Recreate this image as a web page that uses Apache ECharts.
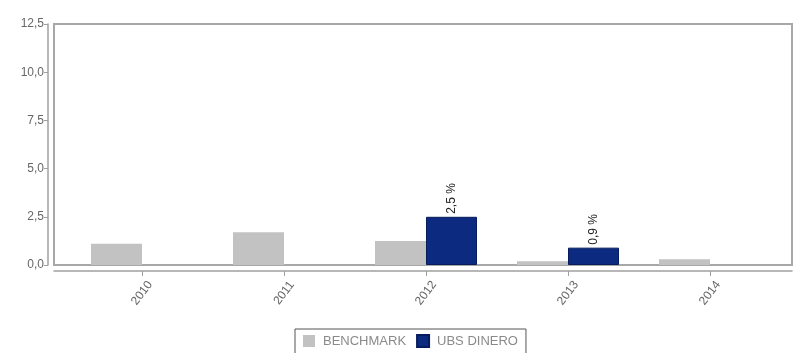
<!DOCTYPE html>
<html>
<head>
<meta charset="utf-8">
<script src="https://cdn.jsdelivr.net/npm/echarts@6/dist/echarts.min.js"></script>
<style>
  html, body { margin: 0; padding: 0; background: #fff; }
  #chart { width: 794px; height: 353px; }
</style>
</head>
<body>
<div id="chart"></div>
<script>
  // datos
  const years = ['2010', '2011', '2012', '2013', '2014'];
  const benchmark = [1.1, 1.7, 1.25, 0.2, 0.3];
  const ubsDinero = [null, null, 2.5, 0.9, null];
  const yTicks = [0, 2.5, 5, 7.5, 10, 12.5];

  const fmt = v => v.toFixed(1).replace('.', ',');

  const chart = echarts.init(document.getElementById('chart'));
  const option = {
    animation: false,
    textStyle: { fontFamily: 'Liberation Sans, Arial, sans-serif' },
    grid: [
      // marco exterior
      { left: 54, right: 2, top: 24, bottom: 88, show: true, borderColor: '#a8a8a8', borderWidth: 2 },
      // zona de barras
      { left: 71, right: 13, top: 24, bottom: 88 }
    ],
    legend: {
      left: 295,
      top: 329,
      data: ['BENCHMARK', 'UBS DINERO'],
      itemWidth: 12,
      itemHeight: 12,
      itemGap: 10,
      padding: [5, 8, 6, 8],
      borderColor: '#555',
      borderWidth: 1,
      icon: 'rect',
      textStyle: { color: '#8a8a8a', fontSize: 13, padding: [0, 0, 0, 3] }
    },
    xAxis: [
      {
        gridIndex: 0,
        type: 'category',
        data: years,
        offset: 6,
        axisLine: { show: true, onZero: false, lineStyle: { color: '#a0a0a0', width: 1.5 } },
        axisTick: { show: false },
        axisLabel: { show: false }
      },
      {
        gridIndex: 1,
        type: 'category',
        data: years,
        offset: 6,
        axisLine: { show: false, onZero: false },
        axisTick: { show: true, alignWithLabel: true, length: 5, lineStyle: { color: '#a0a0a0' } },
        axisLabel: {
          rotate: 53,
          align: 'center',
          verticalAlign: 'middle',
          margin: 22,
          color: '#666',
          fontSize: 12
        }
      }
    ],
    yAxis: [
      {
        gridIndex: 0,
        type: 'value',
        min: 0,
        max: 12.5,
        interval: 2.5,
        offset: 6,
        axisLine: { show: true, lineStyle: { color: '#a0a0a0', width: 1.5 } },
        axisTick: { show: true, length: 4, lineStyle: { color: '#a0a0a0' } },
        splitLine: { show: false },
        axisLabel: {
          color: '#666',
          fontSize: 12,
          margin: 4,
          formatter: v => yTicks.includes(v) ? fmt(v) : ''
        }
      },
      {
        gridIndex: 1,
        type: 'value',
        min: 0,
        max: 12.5,
        interval: 2.5,
        show: false,
        splitLine: { show: false }
      }
    ],
    series: [
      {
        name: 'BENCHMARK',
        type: 'bar',
        xAxisIndex: 1,
        yAxisIndex: 1,
        data: benchmark,
        barWidth: 51,
        barGap: '0%',
        itemStyle: { color: '#c2c2c2' }
      },
      {
        name: 'UBS DINERO',
        type: 'bar',
        xAxisIndex: 1,
        yAxisIndex: 1,
        data: ubsDinero,
        barWidth: 51,
        barGap: '0%',
        itemStyle: { color: '#0b2a80', borderColor: '#061c5c', borderWidth: 1 },
        label: {
          show: true,
          position: 'top',
          rotate: 90,
          align: 'left',
          verticalAlign: 'middle',
          distance: 3,
          color: '#222',
          fontSize: 12,
          formatter: p => fmt(p.value) + ' %'
        }
      }
    ]
  };
  chart.setOption(option);
</script>
</body>
</html>
